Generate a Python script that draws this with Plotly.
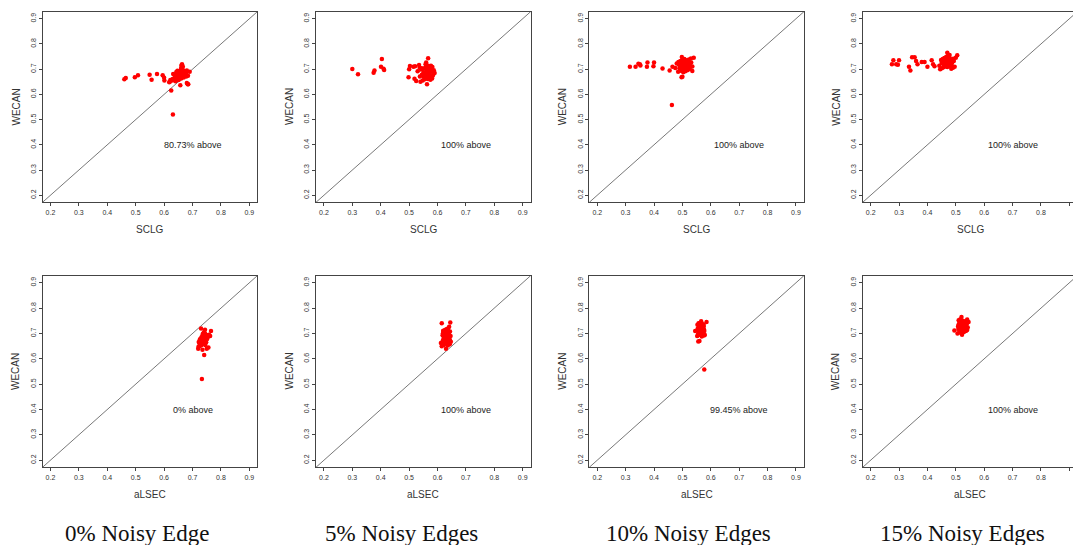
import plotly.graph_objects as go

# ---------------- data ----------------
# 0% noisy edges
wecan_0 = [0.520,0.615,0.660,0.665,0.668,0.676,0.678,0.658,0.681,0.676,0.666,0.655,0.720,0.715,0.710,0.640,0.636,0.645,0.690,0.695,
           0.650,0.655,0.660,0.662,0.665,0.668,0.670,0.672,0.675,0.678,0.680,0.683,0.685,0.688,0.690,0.693,0.695,0.698,0.700,
           0.652,0.657,0.663,0.667,0.671,0.674,0.677,0.681,0.684,0.687,0.691,0.694,
           0.648,0.657,0.661,0.666,0.669,0.673,0.676,0.679,0.682,0.686,0.689,0.692,0.664,0.671,0.705,0.640]
sclg_0 = [0.631,0.625,0.460,0.465,0.497,0.508,0.549,0.556,0.575,0.595,0.600,0.601,0.663,0.661,0.666,0.685,0.657,0.680,0.690,0.680,
          0.620,0.628,0.635,0.642,0.648,0.653,0.657,0.661,0.666,0.672,0.676,0.650,0.645,0.655,0.663,0.670,0.658,0.665,0.660,
          0.640,0.651,0.660,0.669,0.678,0.684,0.638,0.632,0.662,0.668,0.654,0.647,
          0.618,0.622,0.630,0.637,0.644,0.652,0.659,0.664,0.671,0.677,0.643,0.650,0.656,0.647,0.660,0.683]
alsec_0 = [0.733,0.741,0.725,0.736,0.730,0.746,0.740,0.728,0.752,0.738,0.722,0.745,0.730,0.744,0.765,0.750,0.735,0.756,0.762,0.758,
           0.724,0.731,0.737,0.742,0.748,0.735,0.741,0.729,0.746,0.751,0.738,0.744,0.749,0.753,0.740,0.747,0.742,0.736,0.744,
           0.727,0.733,0.739,0.743,0.733,0.748,0.726,0.737,0.731,0.745,0.739,0.750,
           0.721,0.728,0.734,0.739,0.732,0.741,0.745,0.736,0.742,0.747,0.734,0.743,0.738,0.746,0.740,0.720]

# 5% noisy edges
wecan_5 = [0.701,0.680,0.686,0.695,0.710,0.740,0.702,0.697,0.668,0.700,0.713,0.710,0.712,0.662,0.653,0.743,0.640,0.727,
           0.650,0.655,0.660,0.665,0.668,0.672,0.675,0.678,0.681,0.684,0.687,0.690,0.693,0.696,0.699,0.702,0.705,0.708,0.711,0.714,0.717,0.720,
           0.658,0.663,0.671,0.676,0.683,0.688,0.694,0.698,0.704,0.709,0.685,0.692,0.679,0.700,0.667,0.715,0.674,0.689,0.706,0.661]
sclg_5 = [0.300,0.320,0.375,0.378,0.401,0.404,0.410,0.412,0.498,0.500,0.503,0.515,0.521,0.519,0.525,0.567,0.563,0.560,
          0.540,0.548,0.555,0.562,0.570,0.577,0.584,0.545,0.552,0.559,0.566,0.573,0.580,0.587,0.542,0.549,0.556,0.563,0.570,0.577,0.535,0.558,
          0.575,0.581,0.538,0.565,0.571,0.551,0.561,0.568,0.544,0.582,0.590,0.530,0.557,0.575,0.553,0.565,0.548,0.583,0.537,0.566]
alsec_5 = [0.628,0.634,0.622,0.631,0.637,0.615,0.625,0.640,0.618,0.629,0.633,0.620,0.627,0.612,0.636,0.645,0.630,0.641,
           0.615,0.622,0.628,0.633,0.639,0.644,0.620,0.626,0.631,0.636,0.641,0.646,0.618,0.624,0.629,0.634,0.639,0.644,0.621,0.627,0.632,0.637,
           0.643,0.625,0.630,0.635,0.640,0.623,0.628,0.633,0.638,0.626,0.632,0.637,0.642,0.619,0.647,0.630,0.624,0.636,0.641,0.634]

# 10% noisy edges
wecan_10 = [0.710,0.710,0.722,0.720,0.715,0.710,0.727,0.712,0.727,0.703,0.695,0.558,0.710,0.745,0.693,0.670,0.668,0.748,
            0.690,0.694,0.698,0.702,0.706,0.710,0.714,0.718,0.722,0.726,0.730,0.734,0.738,0.742,
            0.688,0.692,0.696,0.700,0.704,0.708,0.712,0.716,0.720,0.724,0.728,0.732,0.736,0.740,
            0.715,0.719,0.723,0.711,0.705,0.727,0.699,0.731,0.717,0.709,0.735,0.721,0.713,0.725]
sclg_10 = [0.315,0.335,0.345,0.350,0.352,0.375,0.377,0.398,0.400,0.430,0.455,0.463,0.465,0.540,0.535,0.500,0.497,0.498,
           0.485,0.492,0.499,0.506,0.513,0.520,0.527,0.488,0.495,0.502,0.509,0.516,0.523,0.530,
           0.503,0.510,0.517,0.524,0.490,0.497,0.504,0.511,0.518,0.525,0.486,0.493,0.500,0.507,
           0.514,0.521,0.480,0.535,0.475,0.531,0.508,0.501,0.496,0.528,0.512,0.507,0.492,0.519]
alsec_10 = [0.560,0.566,0.571,0.557,0.563,0.569,0.574,0.561,0.567,0.572,0.558,0.577,0.545,0.585,0.578,0.560,0.556,0.566,
            0.552,0.557,0.562,0.567,0.572,0.577,0.555,0.560,0.565,0.570,0.575,0.553,0.558,0.563,
            0.568,0.573,0.578,0.556,0.561,0.566,0.571,0.576,0.554,0.559,0.564,0.569,0.574,0.557,
            0.562,0.567,0.572,0.565,0.563,0.568,0.559,0.564,0.570,0.561,0.566,0.558,0.575,0.562]

# 15% noisy edges
wecan_15 = [0.720,0.735,0.720,0.718,0.735,0.710,0.695,0.747,0.747,0.732,0.720,0.728,0.728,0.710,0.735,0.720,0.712,0.755,0.765,0.745,
            0.700,0.704,0.708,0.712,0.716,0.720,0.724,0.728,0.732,0.736,0.740,0.744,0.748,0.752,0.756,
            0.702,0.706,0.710,0.714,0.718,0.722,0.726,0.730,0.734,0.738,0.742,0.746,0.750,0.725,
            0.729,0.733,0.737,0.741,0.713,0.717,0.721,0.727,0.731,0.739,0.743,0.709,0.723]
sclg_15 = [0.275,0.280,0.290,0.296,0.300,0.335,0.340,0.346,0.355,0.360,0.365,0.380,0.390,0.400,0.415,0.420,0.425,0.505,0.470,0.500,
           0.445,0.451,0.457,0.463,0.469,0.475,0.481,0.487,0.493,0.448,0.454,0.460,0.466,0.472,0.478,
           0.484,0.490,0.496,0.442,0.458,0.464,0.470,0.476,0.482,0.488,0.462,0.468,0.474,0.450,
           0.456,0.480,0.473,0.491,0.477,0.483,0.459,0.465,0.471,0.467,0.479,0.470,0.486]
alsec_15 = [0.515,0.521,0.527,0.533,0.510,0.516,0.522,0.528,0.534,0.511,0.517,0.523,0.529,0.535,0.512,0.518,0.495,0.540,0.520,0.545,
            0.506,0.512,0.518,0.524,0.530,0.536,0.542,0.508,0.514,0.520,0.526,0.532,0.538,0.510,0.516,
            0.522,0.528,0.534,0.540,0.509,0.515,0.521,0.527,0.533,0.539,0.513,0.519,0.525,0.531,
            0.537,0.517,0.523,0.529,0.520,0.526,0.532,0.511,0.524,0.530,0.518,0.527,0.513]

noise_titles = ["0% Noisy Edge", "5% Noisy Edges", "10% Noisy Edges", "15% Noisy Edges"]
above_sclg = ["80.73% above", "100% above", "100% above", "100% above"]
above_alsec = ["0% above", "100% above", "99.45% above", "100% above"]
tick_vals = [0.2, 0.3, 0.4, 0.5, 0.6, 0.7, 0.8, 0.9]
diag_line = [0.0, 1.0]
label_xy = [0.7, 0.4]

wecan = [wecan_0, wecan_5, wecan_10, wecan_15]
sclg = [sclg_0, sclg_5, sclg_10, sclg_15]
alsec = [alsec_0, alsec_5, alsec_10, alsec_15]
for a, b, c in zip(wecan, sclg, alsec):
    assert len(a) == len(b) == len(c)

# ---------------- layout geometry ----------------
W, H = 1073, 545
col_px = [(42.5, 257.3), (316.0, 530.6), (589.3, 803.9), (862.7, 1077.3)]
row_px = [(11.7, 202.3), (275.7, 467.3)]
rng = [0.172, 0.928]
axis_col = "#444444"
sans = "Liberation Sans, Arial, sans-serif"

fig = go.Figure()
layout = dict(width=W, height=H, margin=dict(l=0, r=0, t=0, b=0),
              paper_bgcolor="white", plot_bgcolor="white", showlegend=False)
annotations = []

for r in range(2):
    xname = ["SCLG", "aLSEC"][r]
    xs_all = [sclg, alsec][r]
    txt_all = [above_sclg, above_alsec][r]
    for c in range(4):
        idx = r * 4 + c + 1
        sfx = "" if idx == 1 else str(idx)
        xa, ya = "x" + sfx, "y" + sfx
        x0, x1 = col_px[c]
        y0, y1 = row_px[r]
        xr = list(rng)
        if x1 > W:
            # panel is cut off by the right edge of the image
            xr[1] = rng[0] + (rng[1] - rng[0]) * (W - x0) / (x1 - x0)
            x1 = W
        common = dict(range=xr, showgrid=False, zeroline=False, showline=True, mirror=True,
                      linecolor=axis_col, linewidth=1, ticks="outside", ticklen=3, tickwidth=1,
                      tickcolor=axis_col, tickvals=tick_vals, tickformat=".1f",
                      tickfont=dict(family=sans, size=7, color="#333333"))
        layout["xaxis" + sfx] = dict(common, domain=[x0 / W, x1 / W], anchor=ya)
        ycommon = dict(common, range=list(rng))
        layout["yaxis" + sfx] = dict(ycommon, domain=[1 - y1 / H, 1 - y0 / H], anchor=xa, tickangle=-90)

        fig.add_trace(go.Scatter(x=diag_line, y=diag_line, mode="lines", xaxis=xa, yaxis=ya,
                                 line=dict(color="#555555", width=0.8), hoverinfo="skip"))
        fig.add_trace(go.Scatter(x=xs_all[c], y=wecan[c], mode="markers", xaxis=xa, yaxis=ya,
                                 marker=dict(color="#FF0000", size=4.5, line=dict(width=0))))
        annotations.append(dict(x=label_xy[0], y=label_xy[1], xref=xa, yref=ya, text=txt_all[c],
                                xanchor="center", yanchor="middle", showarrow=False,
                                font=dict(family=sans, size=9, color="#222222")))
        # axis titles
        cx = (col_px[c][0] + col_px[c][1]) / 2
        annotations.append(dict(x=cx / W, y=1 - (y1 + 27) / H, xref="paper", yref="paper",
                                xanchor="center", yanchor="middle",
                                text=xname, showarrow=False,
                                font=dict(family=sans, size=10, color="#333333")))
        annotations.append(dict(x=(col_px[c][0] - 27) / W, y=1 - (y0 + y1) / 2 / H, xref="paper",
                                yref="paper", xanchor="center", yanchor="middle",
                                text="WECAN", textangle=-90, showarrow=False,
                                font=dict(family=sans, size=10, color="#333333")))

title_cx = [137, 401, 688, 962]
for c in range(4):
    annotations.append(dict(x=title_cx[c] / W, y=1 - 533 / H, xref="paper", yref="paper",
                            xanchor="center", yanchor="middle",
                            text=noise_titles[c], showarrow=False,
                            font=dict(family="Liberation Serif, serif", size=23, color="#111111")))

layout["annotations"] = annotations
fig.update_layout(**layout)
fig.write_html("out.html", config={"displayModeBar": False},
               post_script="document.body.style.margin='0';document.body.style.overflow='hidden';")
